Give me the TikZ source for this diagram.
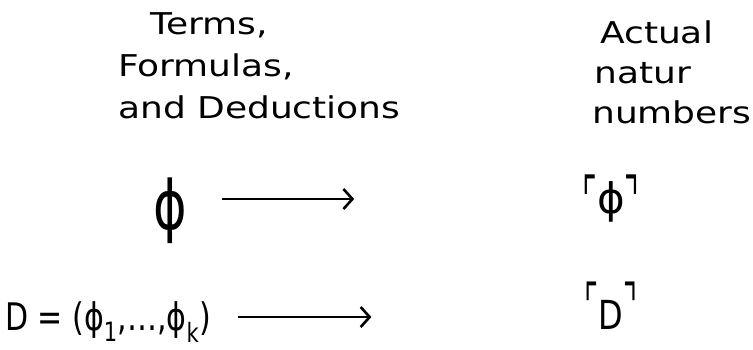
\documentclass[tikz,border=0pt]{standalone}
\usepackage{fontspec}
\newfontfamily\hand[FakeStretch=1.2]{DejaVu Sans}
\newfontfamily\symf{DejaVu Sans}
\usetikzlibrary{arrows.meta}
\begin{document}
\begin{tikzpicture}[x=1pt,y=-1pt,
  lbl/.style={font=\hand\fontsize{30}{42}\selectfont, align=left, inner sep=0pt, anchor=north west},
  sym/.style={inner sep=0pt},
  arr/.style={line width=2.8pt, -{Straight Barb[length=9pt,width=20pt,line width=2.6pt]}}]
\useasboundingbox[fill=white] (0,0) rectangle (753,349);
\node[lbl] (left) at (118,12) {\hspace*{32pt}Terms,\\Formulas,\\and Deductions};
\node[lbl, font=\hand\fontsize{30}{40}\selectfont] (right) at (592,21) {\hspace*{8pt}Actual\\\hspace*{2pt}natur\\numbers};
\node[sym] (phi) at (170,211) {\symf\fontsize{68}{68}\selectfont\scalebox{0.75}[1]{ϕ}};
\node[sym] (qphi) at (611,199) {\symf\fontsize{42}{42}\selectfont\raisebox{-6pt}{\scalebox{0.75}[1.4]{⌜}}ϕ\raisebox{-6pt}{\scalebox{0.75}[1.4]{⌝}}};
\node[sym] (deriv) at (108,322) {\symf\fontsize{38}{38}\selectfont\scalebox{0.79}[1]{D = (ϕ\textsubscript{1},…,ϕ\textsubscript{k})}};
\node[sym] (qD) at (611,306) {\symf\fontsize{40}{40}\selectfont\raisebox{-3pt}{\scalebox{0.75}[1.4]{⌜}}\raisebox{-8pt}{\scalebox{0.8}[1]{D}}\raisebox{-3pt}{\scalebox{0.75}[1.4]{⌝}}};
\draw[arr] ([xshift=35pt]phi.east |- qphi.center) -- ([xshift=-228pt]qphi.west);
\draw[arr] ([xshift=27pt,yshift=5pt]deriv.east) -- ([xshift=-213pt,yshift=-11pt]qD.west);
\end{tikzpicture}
\end{document}
